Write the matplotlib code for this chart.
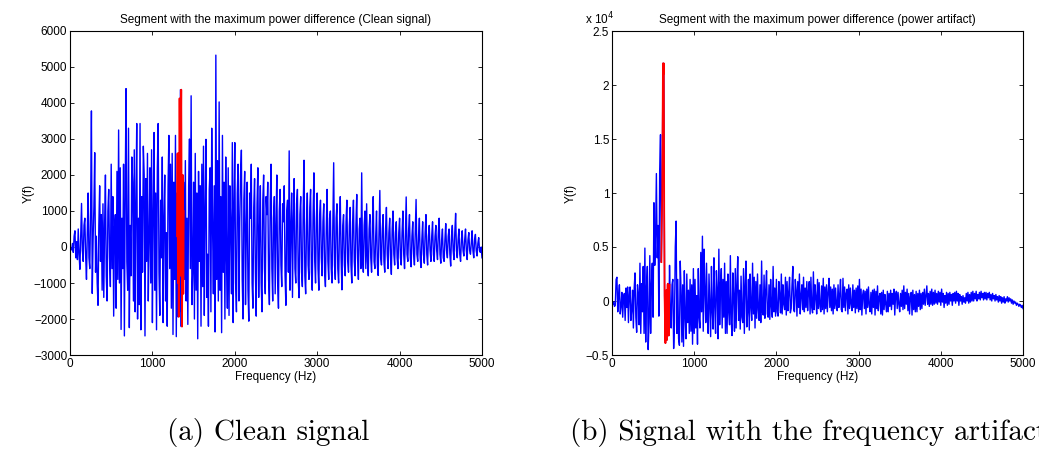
import numpy as np
import matplotlib.pyplot as plt
from matplotlib.ticker import FuncFormatter

# traces are sampled every 10 Hz, 0..5000 Hz
freq_step = 10

# clean signal, Y(f)
clean_y = [
    0, -50, -80, 100, -150, 300, 450, -300, 150, -350, 500, -200, -620, 300, 1210, -100, -400, 600, 800, -250,
    -900, 400, 1500, -300, -600, 1000, 3780, -1290, 200, 1100, 2620, -700, 300, -1000, -1620, 600, 1700, -400, 900, -1200,
    1200, -1400, 600, 2000, -800, -1500, 1000, 1600, -300, -1100, 2300, -600, 1400, -1920, 500, 900, -1700, 2100, -900, 3250,
    -1000, 2200, -2290, 800, -600, 2300, -2470, 1500, 4400, -400, -1200, 3300, -2240, 600, -800, 2500, 1800, -1500, 2700, -1800,
    1200, 3430, -2000, 800, -1600, 3430, -2300, 1400, -700, 2800, 2000, -2470, 1900, -400, 2600, -1500, 200, 2200, -1000, 2700,
    -2100, 900, 3180, -1200, 1500, -2300, 2200, 3430, -700, -1900, 1300, -300, 2500, -2100, 800, 2000, -1500, 400, -2200, 1700,
    3100, -600, 2300, -1700, 2600, -2430, 1800, -900, 3100, -2490, 1500, -1940, 300, -1800, 4370, -2210, 2000, -1300, 1800, -900,
    2400, -1500, 800, -2150, 1700, 3000, -600, 4200, -1600, -700, 1800, -2000, 2600, -1200, 1500, -2550, 2100, -400, 1700, -2200,
    2300, -1100, 2800, -1900, 1000, 2990, -1400, -200, -2200, 1600, 2200, -1800, 3300, 600, -1300, 1700, -2360, 5330, -900, 2400,
    -1500, 4030, -1200, 1400, -2380, 3100, -700, 1800, -2000, 2500, -300, -1700, 2200, -1900, 1700, 600, -1300, 2900, -2100, 1200,
    2900, -1000, -1800, 1500, 2300, -1500, 700, 2000, 2690, -900, -2000, 1300, 2100, -1600, 500, 1800, -1200, -2060, 1500, 800,
    2300, -1000, -1700, 1100, 1900, -700, -1920, 1200, 2200, -1400, 400, 1700, -1000, -1800, 1300, 2000, -600, -1300, 1400, 900,
    1800, -900, -1600, 1300, 2300, -600, -1500, 800, 1400, -1300, 600, 2000, -1000, -1700, 1000, 1600, -500, -1100, 1200, 700,
    1700, -800, -1620, 1000, 1300, -700, 2670, -1200, 500, 1500, -1400, 800, 1900, -600, -1000, 1200, 1600, -900, -1410, 900,
    1400, -700, -1100, 1000, 2410, -800, -1300, 600, 1500, -500, -900, 1100, 1600, -700, -1200, 900, 2060, -400, -1000, 800,
    1500, -600, -1200, 900, 1300, -300, -800, 700, 1200, -700, -1100, 500, 1600, -400, -900, 800, 1000, -600, -1000, 700,
    2340, -500, -900, 800, 1200, -600, -1000, 500, 1400, -300, -1190, 600, 900, -500, -800, 700, 1300, -400, -700, 600,
    1100, -500, -1000, 700, 1300, -400, -800, 600, 1460, -300, -900, 500, 800, -600, 2060, -300, -700, 600, 1000, -600,
    1200, -400, -800, 500, 900, -300, -700, 600, 1400, -400, -600, 300, 1000, -500, -790, 400, 1570, -300, -500, 500,
    900, -400, -700, 500, 1100, -200, -600, 400, 800, -300, -760, 500, 1000, -200, -500, 400, 700, -300, -600, 400,
    800, -300, -500, 400, 1000, -200, -600, 300, 1390, -200, -400, 500, 900, -300, -550, 300, 700, -200, -500, 400,
    1320, -200, -400, 300, 800, -300, -570, 200, 700, -200, -450, 400, 900, -200, -500, 300, 600, -100, -400, 300,
    700, -200, -400, 300, 600, -100, -350, 400, 800, -200, -450, 200, 500, -300, -400, 200, 650, -100, -300, 300,
    500, -200, -530, 300, 600, -100, -350, 400, 935, -100, -300, 200, 500, -200, -400, 200, 450, -100, -250, 200,
    500, -100, -350, 200, 400, -100, -200, 100, 450, -100, -300, 200, 350, -100, -250, 100, 260, -100, -150, 0,
    -300,
]

# segment with the maximum power difference (red), clean signal
clean_seg_f = [1300, 1305, 1310, 1315, 1320, 1325, 1330, 1335, 1340, 1345, 1350, 1355, 1360, 1365, 1370, 1375, 1380]
clean_seg_y = [300, 2600, -1000, 2600, -1940, 1500, 4130, 2000, -800, 3000, 4370, 1000, -2210, 1500, 2000, -1300, 1000]

# signal with the frequency artifact, Y(f)
art_y = [
    -200, -300, -100, -500, -400, 2000, 2200, -1000, 500, 1500, -1200, -500, 800, -1500, 300, 700, -1800, 1200, -600, 1300,
    -2000, 600, 1300, -1800, -800, 1000, -2500, 1200, 2600, -1500, -2900, 1500, 600, -2200, 3500, -3000, 1600, -1000, 3200, -3000,
    4900, -3800, 1200, 3200, -4500, -2000, 4200, -3000, 1500, 3500, -1500, 9100, 3300, 6000, 11800, 4000, 7000, -1400, 12000, 15400,
    3600, 9300, 22000, 22000, 500, -3900, 1000, -3600, 1600, -3200, 3300, -1000, -2500, 1500, 2000, -4400, -2000, 5000, 7400, -3000,
    2000, -3500, -4100, 3700, 1000, -3800, 1500, -4200, 2800, -1500, -3500, 2500, -2000, 1000, -3000, 2000, -2800, 1500, -4000, 3000,
    -3000, 2000, -2500, 500, -4000, 3000, -1500, -2500, 4500, -1000, 6000, -2800, 4800, 1000, -2000, 3500, -1500, -3000, 2500, -500,
    -3300, 3200, -1000, -2600, 4000, -500, -3000, 2800, 1000, -3500, 4800, -2200, 1500, 3000, -2500, 2000, -1500, 3500, -3000, 1800,
    -3000, 2500, -1000, -2200, 4200, -1800, -3200, 2600, 500, -2800, 3000, -2500, 1500, 4100, -1800, 1000, -2600, 2300, -1500, -2000,
    3000, -3000, 1500, 3700, -2400, -1000, 2000, -2700, 2500, -500, -1800, 3500, -1200, 2200, -2500, 1800, -1600, 2500, -800, -1800,
    1500, -2000, 3700, -1000, -1300, 2400, -1600, 1000, 2800, -1200, -1500, 1500, -1700, 2000, -500, -1500, 3200, -1000, 1200, -1400,
    2000, -1000, -1400, 1800, 500, -1100, 2500, -1200, 1500, -300, -800, 2200, -1300, 1800, -900, 800, 2200, -1100, -700, 1500,
    3200, -800, -1000, 2000, 1000, -1400, 1800, -600, 2500, -1200, 500, 1500, -800, 2200, -1000, 1200, -600, 1800, -900, 900,
    1800, -1200, 2200, -600, -1100, 2700, -800, 1500, 300, -1200, 2000, -700, 1700, -500, -1000, 1400, -800, 2100, -1200, 1300,
    -700, 1500, -1000, 800, 2100, -600, 1300, -900, 1100, -1200, 1500, -700, 1200, -400, -900, 1500, -600, 600, 2000, -800,
    -1000, 2100, -600, 1300, -900, 700, 1100, -1200, 1500, -700, 1200, -300, -900, 1500, -600, 1000, -1100, 1200, -700, 1400,
    -1000, 2000, -800, 1100, -1300, 600, 1000, -700, 900, -1200, 1100, -600, 1300, -400, -1000, 800, -1200, 1000, -600, 1100,
    -1300, 900, -700, 1400, -900, 400, 700, -1200, 800, -1300, 1000, -800, 600, -300, -1000, 900, -1000, 700, -500, 1000,
    -800, 700, -300, 1100, -1300, 600, 900, -700, 800, -300, -1000, 700, -500, 1000, -800, 1400, -700, 800, -300, 1100,
    -900, 700, -1200, 400, 800, -1300, 1000, -800, 600, -1000, 900, -1000, 700, -500, 1000, -800, 700, -700, 800, -300,
    1100, -400, 500, 1400, -300, 700, -500, 900, -300, 1100, -400, 800, -300, 1000, -200, 700, -300, 900, -100, 800,
    -400, 1100, -100, 700, -600, 500, -200, 800, -400, 700, -300, 800, 0, 600, -400, 700, 0, 800, -200, 900,
    0, 700, -400, 600, 0, 400, -300, 500, -100, 300, -200, 700, 0, 800, -200, 600, -100, 800, 0, 900,
    0, 700, 200, 900, 0, 600, 200, 800, 100, 900, 300, 700, 100, 800, 200, 800, 100, 700, 300, 800,
    100, 600, 0, 700, 200, 500, 0, 600, 100, 400, -100, 500, 0, 400, -200, 300, -100, 400, -200, 200,
    0, 400, -100, 300, 0, 200, -200, 100, -300, 0, -200, -100, -400, -200, -300, -500, -300, -400, -600, -400,
    -700,
]

art_seg_f = [600, 605, 610, 615, 620, 625, 630, 635, 640, 645, 650, 655, 660, 665, 670, 675, 680, 685, 690, 695, 700]
art_seg_y = [3600, 7000, 9300, 15000, 22000, 21000, 22000, 8000, 500, -2000, -3900, -1000, 1000, -2500, -3600, 1500, 1600, -1500, -3200, 500, 1500]

clean_f = np.arange(len(clean_y)) * freq_step
art_f = np.arange(len(art_y)) * freq_step

plt.rcParams['font.family'] = ['Liberation Sans', 'DejaVu Sans']

fig = plt.figure(figsize=(10.39, 4.5), dpi=100)
ax1 = fig.add_axes([70/1039, 1-355/450, 412/1039, 324/450])
ax2 = fig.add_axes([612/1039, 1-355/450, 411/1039, 324/450])

ax1.plot(clean_f, clean_y, color='blue', lw=1.0)
ax1.plot(clean_seg_f, clean_seg_y, color='red', lw=1.3)
ax1.set_xlim(0, 5000)
ax1.set_ylim(-3000, 6000)
ax1.set_yticks(range(-3000, 6001, 1000))
ax1.set_title('Segment with the maximum power difference (Clean signal)', fontsize=8.5, pad=6)

ax2.plot(art_f, art_y, color='blue', lw=1.0)
ax2.plot(art_seg_f, art_seg_y, color='red', lw=1.3)
ax2.set_xlim(0, 5000)
ax2.set_ylim(-5000, 25000)
ax2.set_yticks(range(-5000, 25001, 5000))
ax2.yaxis.set_major_formatter(FuncFormatter(lambda v, p: '{:g}'.format(v / 1e4).replace('-', '\u2212')))
ax2.set_title('Segment with the maximum power difference (power artifact)', fontsize=8.5, pad=6)
ax2.text(-0.066, 1.01, r'x 10$^4$', transform=ax2.transAxes, fontsize=8.5, ha='left', va='bottom')

for ax in (ax1, ax2):
    ax.set_xticks(range(0, 5001, 1000))
    ax.set_xlabel('Frequency (Hz)', fontsize=8.5, labelpad=1)
    ax.set_ylabel('Y(f)', fontsize=8.5)
    ax.yaxis.set_label_coords(-0.085, 0.5)
    ax.tick_params(direction='in', top=True, right=True, labelsize=8.5, length=3, width=0.6, pad=2)
    for s in ax.spines.values():
        s.set_linewidth(0.8)

fig.text(268/1039, 0.038, '(a) Clean signal', family='cmr10', fontsize=21, ha='center', va='center')
fig.text(570/1039, 0.038, '(b) Signal with the frequency artifact', family='cmr10', fontsize=21, ha='left', va='center')

fig.savefig('out.png', dpi=100)
